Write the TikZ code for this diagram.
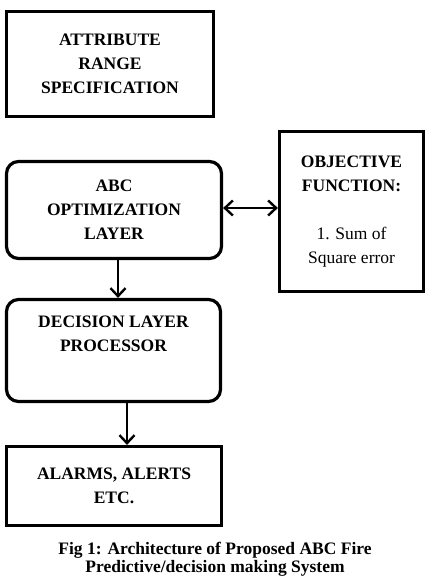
\documentclass[tikz,border=0pt]{standalone}
\usepackage{fontspec}
\setmainfont{Liberation Serif}
\usepackage{tikz}
\usetikzlibrary{positioning,arrows.meta}

\tikzset{
    blockbox/.style={draw=black, line width=3.2pt, align=center, inner sep=2pt,
        font=\bfseries\fontsize{17.5}{24}\selectfont},
    roundbox/.style={blockbox, rounded corners=12pt},
    flowarrow/.style={line width=2.4pt, -{Straight Barb[length=8pt,width=15pt,line width=2.4pt]}},
}

\begin{document}
\begin{tikzpicture}[x=1pt, y=-1pt]
    \useasboundingbox (0,0) rectangle (431,577);

    % Eingabe
    \node[blockbox, minimum width=207pt, minimum height=105pt] (attr) at (110, 64)
        {ATTRIBUTE\\RANGE\\SPECIFICATION};

    % ABC Schicht und Zielfunktion
    \node[roundbox, minimum width=215pt, minimum height=97pt] (abc) at (114, 210)
        {ABC\\OPTIMIZATION\\LAYER};
    \node[blockbox, minimum width=144pt, minimum height=160pt] (obj) at (351.5, 211.5)
        {OBJECTIVE\\FUNCTION:\\[24pt]{\mdseries 1. Sum of}\\{\mdseries Square error}};
    \draw[line width=2.4pt, {Straight Barb[length=8pt,width=15pt,line width=2.4pt]}-{Straight Barb[length=8pt,width=15pt,line width=2.4pt]}]
        (abc.east |- 0,208) -- (obj.west |- 0,208);

    % Entscheidung
    \node[roundbox, minimum width=214pt, minimum height=102pt] (dec) at (113.5, 350.5)
        {DECISION LAYER\\PROCESSOR\\[10pt]};
    \draw[flowarrow] (abc.south -| 118,0) -- (dec.north -| 118,0);

    % Ausgabe
    \node[blockbox, minimum width=215pt, minimum height=79pt] (alarm) at (114, 486)
        {ALARMS, ALERTS\\ETC.};
    \draw[flowarrow] (dec.south -| 127,0) -- (alarm.north -| 127,0);

    % Bildunterschrift
    \node[align=center, font=\bfseries\fontsize{17.5}{18}\selectfont, anchor=south, inner sep=0pt] (caption) at (215, 577)
        {Fig 1: Architecture of Proposed ABC Fire\\Predictive/decision making System};
\end{tikzpicture}
\end{document}
